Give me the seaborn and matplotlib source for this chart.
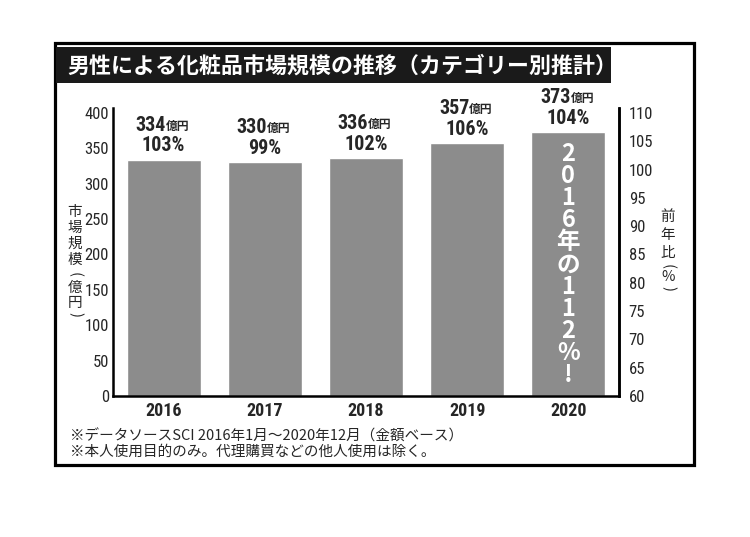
import matplotlib.pyplot as plt
import matplotlib.patches as patches
import seaborn as sns
import pandas as pd

# data
years = ["2016", "2017", "2018", "2019", "2020"]
market = [334, 330, 336, 357, 373]      # 億円
yoy = [103, 99, 102, 106, 104]          # 前年比 %
left_ticks = [0, 50, 100, 150, 200, 250, 300, 350, 400]
right_ticks = [60, 65, 70, 75, 80, 85, 90, 95, 100, 105, 110]

title = "男性による化粧品市場規模の推移（カテゴリー別推計）"
note1 = "※データソースSCI 2016年1月〜2020年12月（金額ベース）"
note2 = "※本人使用目的のみ。代理購買などの他人使用は除く。"
bar_note = "2016年の112%!"

sns.set_style("white")
cjk = ["Noto Sans CJK JP", "DejaVu Sans"]
narrow = ["Roboto Condensed", "Archivo Narrow", "Noto Sans CJK JP", "DejaVu Sans"]
plt.rcParams["font.family"] = cjk

W, H = 750, 537
fig = plt.figure(figsize=(7.5, 5.37), dpi=100)


def fx(x):
    return x / W


def fy(y):
    return 1 - y / H


# outer frame and title banner
fig.patches.append(patches.Rectangle((fx(55), fy(465)), fx(694) - fx(55), fy(43) - fy(465),
                                     transform=fig.transFigure, fill=False, lw=2.3, ec="black"))
fig.patches.append(patches.Rectangle((fx(56), fy(83)), fx(611) - fx(56), fy(47) - fy(83),
                                     transform=fig.transFigure, fc="#1a1a1a", ec="none"))
fig.text(fx(67), fy(66), title, color="white", fontsize=15.8, fontweight="bold",
         va="center", ha="left")

ax = fig.add_axes([fx(113), fy(396), fx(619) - fx(113), fy(108) - fy(396)])
df = pd.DataFrame({"year": years, "market": market})
sns.barplot(data=df, x="year", y="market", color="#8c8c8c", saturation=1,
            width=0.73, ax=ax)
ax.set_xlim(-0.5, 4.5)
ax.set_ylim(0, 407)
ax.set_yticks(left_ticks)
ax.set_xlabel("")
ax.set_ylabel("")
ax.tick_params(axis="y", length=0, pad=3, labelsize=12)
ax.tick_params(axis="x", length=0, pad=4)
for lab in ax.get_yticklabels():
    lab.set_family(narrow)
for lab in ax.get_xticklabels():
    lab.set_family(narrow)
    lab.set_fontweight("bold")
    lab.set_fontsize(13)
for s in ["left", "bottom", "right"]:
    ax.spines[s].set_color("black")
    ax.spines[s].set_linewidth(1.8)
ax.spines["top"].set_visible(False)

ax2 = ax.twinx()
ax2.set_ylim(60, 60 + 50 * 407 / 400)
ax2.set_yticks(right_ticks)
ax2.tick_params(axis="y", length=0, pad=7, labelsize=12)
for lab in ax2.get_yticklabels():
    lab.set_family(narrow)
for s in ["left", "bottom", "top"]:
    ax2.spines[s].set_visible(False)
ax2.spines["right"].set_linewidth(1.8)
ax2.spines["right"].set_color("black")

# labels above bars
for i, (v, p) in enumerate(zip(market, yoy)):
    ax.annotate(f"{p}%", (i, v), xytext=(0, 3), textcoords="offset points",
                ha="center", va="bottom", fontsize=14.5, fontweight="bold", family=narrow)
    ax.annotate(f"{v}", (i, v), xytext=(1.5, 18), textcoords="offset points",
                ha="right", va="bottom", fontsize=14.5, fontweight="bold", family=narrow)
    ax.annotate("億円", (i, v), xytext=(1.5, 19.5), textcoords="offset points",
                ha="left", va="bottom", fontsize=8.5, fontweight="bold", family=cjk)

# vertical note inside the last bar
chars = list(bar_note)
top_px, bot_px = 154, 375
step = (bot_px - top_px) / (len(chars) - 1)
bar_cx = ax.transData.transform((4, 0))[0] / fig.dpi / 7.5
for k, c in enumerate(chars):
    fig.text(bar_cx, fy(top_px + k * step), c, color="white", fontsize=17,
             fontweight="bold", ha="center", va="center", family=cjk)

# vertical axis titles (parentheses turned for vertical writing)
left_label = [("市", 212), ("場", 228), ("規", 244), ("模", 260), ("(", 274),
              ("億", 288), ("円", 303), (")", 315)]
for c, y in left_label:
    rot = -90 if c in "()" else 0
    fig.text(fx(75), fy(y), c, fontsize=10.5, ha="center", va="center",
             rotation=rot, family=cjk)
right_label = [("前", 217), ("年", 235), ("比", 253), ("(", 266), ("%", 277), (")", 289)]
for c, y in right_label:
    rot = -90 if c in "()" else 0
    fig.text(fx(668), fy(y), c, fontsize=10.5, ha="center", va="center",
             rotation=rot, family=cjk)

# footnotes
fig.text(fx(70), fy(436), note1, fontsize=10.5, ha="left", va="center", family=cjk)
fig.text(fx(70), fy(452), note2, fontsize=10.5, ha="left", va="center", family=cjk)

fig.savefig("out.png", dpi=100)
